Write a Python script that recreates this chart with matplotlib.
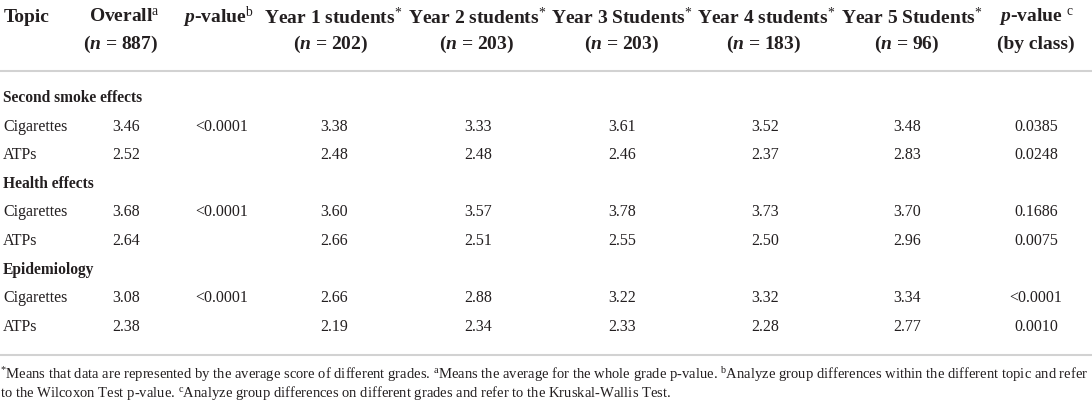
import matplotlib
matplotlib.use("Agg")
import matplotlib.pyplot as plt

plt.rcParams['mathtext.fontset'] = 'custom'
plt.rcParams['mathtext.rm'] = 'Liberation Serif'
plt.rcParams['mathtext.it'] = 'Liberation Serif:italic:bold'
plt.rcParams['mathtext.bf'] = 'Liberation Serif:bold'
plt.rcParams['font.family'] = ['Liberation Serif', 'DejaVu Serif']

# ---- data ----
header_top = ["Topic", "Overall$^{\\mathrm{a}}$", "$p$-value$^{\\mathrm{b}}$",
              "Year 1 students$^{*}$", "Year 2 students$^{*}$", "Year 3 Students$^{*}$",
              "Year 4 students$^{*}$", "Year 5 Students$^{*}$", "$p$-value $^{\\mathrm{c}}$"]
header_bot = ["", "($n$ = 887)", "", "($n$ = 202)", "($n$ = 203)", "($n$ = 203)",
              "($n$ = 183)", "($n$ = 96)", "(by class)"]
topics = ["Second smoke effects", "Health effects", "Epidemiology"]
products = ["Cigarettes", "ATPs"]
overall = [["3.46", "2.52"], ["3.68", "2.64"], ["3.08", "2.38"]]
p_topic = ["<0.0001", "<0.0001", "<0.0001"]
year1 = [["3.38", "2.48"], ["3.60", "2.66"], ["2.66", "2.19"]]
year2 = [["3.33", "2.48"], ["3.57", "2.51"], ["2.88", "2.34"]]
year3 = [["3.61", "2.46"], ["3.78", "2.55"], ["3.22", "2.33"]]
year4 = [["3.52", "2.37"], ["3.73", "2.50"], ["3.32", "2.28"]]
year5 = [["3.48", "2.83"], ["3.70", "2.96"], ["3.34", "2.77"]]
p_class = [["0.0385", "0.0248"], ["0.1686", "0.0075"], ["<0.0001", "0.0010"]]
footnotes = [
    "$^{*}$Means that data are represented by the average score of different grades. "
    "$^{\\mathrm{a}}$Means the average for the whole grade p-value. "
    "$^{\\mathrm{b}}$Analyze group differences within the different topic and refer",
    "to the Wilcoxon Test p-value. $^{\\mathrm{c}}$Analyze group differences on different "
    "grades and refer to the Kruskal-Wallis Test.",
]

# ---- layout ----
W, H = 1092, 404
fig = plt.figure(figsize=(W / 100, H / 100), dpi=100)
ax = fig.add_axes([0, 0, 1, 1])
ax.set_xlim(0, W)
ax.set_ylim(H, 0)
ax.axis('off')

col_val_x = [126, 222, 334, 478, 622, 765, 907, 1036]
col_head_x = [124, 218, 333, 477, 622, 766, 912, 1036]
col_head2_x = [121, 218, 331, 477, 622, 764, 907, 1036]
fs_head = 14
fs = 11.5
fs_sub = 11.2
col = '#231f20'

ax.text(4, 17, header_top[0], fontsize=fs_head, fontweight='bold', va='center', ha='left', color=col)
for i in range(1, 9):
    ax.text(col_head_x[i - 1], 17, header_top[i], fontsize=fs_head, fontweight='bold',
            va='center', ha='center', color=col)
    if header_bot[i]:
        ax.text(col_head2_x[i - 1], 44, header_bot[i], fontsize=fs_head, fontweight='bold',
                va='center', ha='center', color=col)

ax.plot([0, W], [71, 71], color='#d2d2d2', lw=1.5, solid_capstyle='butt')
ax.plot([0, W], [355, 355], color='#d2d2d2', lw=1.5, solid_capstyle='butt')

y = 98
step = 28.6
for t, topic in enumerate(topics):
    ax.text(3, y, topic, fontsize=fs_sub, fontweight='bold', va='center', ha='left', color=col)
    y += step
    for r, prod in enumerate(products):
        ax.text(3, y, prod, fontsize=fs, va='center', ha='left', color=col)
        vals = [overall[t][r], p_topic[t] if r == 0 else "", year1[t][r], year2[t][r],
                year3[t][r], year4[t][r], year5[t][r], p_class[t][r]]
        for x, v in zip(col_val_x, vals):
            if v:
                ax.text(x, y, v, fontsize=fs, va='center', ha='center', color=col)
        y += step

ax.text(0, 375, footnotes[0], fontsize=10.5, va='center', ha='left', color=col)
ax.text(0, 393, footnotes[1], fontsize=10.5, va='center', ha='left', color=col)

fig.savefig("out.png", dpi=100, facecolor='white')
